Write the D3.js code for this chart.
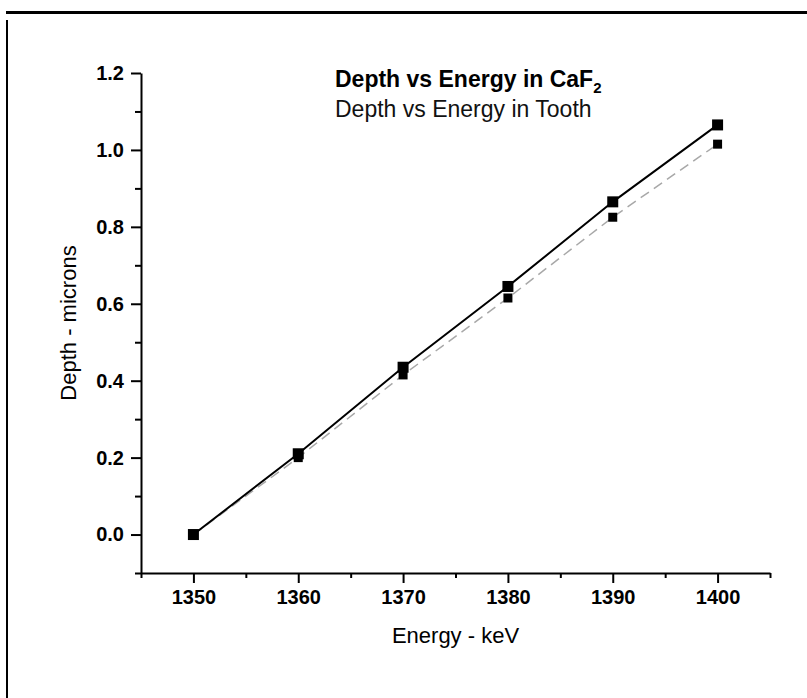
<!DOCTYPE html>
<html>
<head>
<meta charset="utf-8">
<script src="https://d3js.org/d3.v7.min.js"></script>
<style>
  body { margin: 0; background: #fff; }
  svg { display: block; font-family: "Liberation Sans", Arial, sans-serif; }
</style>
</head>
<body>
<script>
// values
const energy = [1350, 1360, 1370, 1380, 1390, 1400];
const depthCaF2 = [0, 0.21, 0.435, 0.645, 0.865, 1.065];
const depthTooth = [0, 0.20, 0.415, 0.615, 0.825, 1.015];

const xTicks = [1350, 1360, 1370, 1380, 1390, 1400];
const xMinorTicks = [1345, 1355, 1365, 1375, 1385, 1395, 1405];
const yTicks = [0, 0.2, 0.4, 0.6, 0.8, 1.0, 1.2];
const yMinorTicks = [-0.1, 0.1, 0.3, 0.5, 0.7, 0.9, 1.1];

const legendLabels = ['Depth vs Energy in CaF', 'Depth vs Energy in Tooth'];

var svgWidth = 807, svgHeight = 698;

var svg = d3.select('body')
    .append('svg')
    .attr('width', svgWidth)
    .attr('height', svgHeight);

// page frame (top and left edges only)
svg.append('line')
    .attr('x1', 6).attr('x2', svgWidth).attr('y1', 12.5).attr('y2', 12.5)
    .attr('stroke', '#000').attr('stroke-width', 3);
svg.append('line')
    .attr('x1', 7).attr('x2', 7).attr('y1', 20).attr('y2', svgHeight)
    .attr('stroke', '#000').attr('stroke-width', 2);

var xScale = d3.scaleLinear()
    .domain([1345, 1405])
    .range([141, 770]);

var yScale = d3.scaleLinear()
    .domain([-0.1, 1.2])
    .range([573, 73]);

// minor ticks first
svg.append('g')
    .attr('transform', 'translate(0,' + yScale(-0.1) + ')')
    .call(d3.axisBottom(xScale).tickValues(xMinorTicks).tickSize(5).tickFormat(''))
    .call(g => g.select('.domain').remove())
    .selectAll('line').attr('stroke-width', 2);

svg.append('g')
    .attr('transform', 'translate(' + xScale(1345) + ',0)')
    .call(d3.axisLeft(yScale).tickValues(yMinorTicks).tickSize(6).tickFormat(''))
    .call(g => g.select('.domain').remove())
    .selectAll('line').attr('stroke-width', 2);

// major axes
var xAxis = svg.append('g')
    .attr('transform', 'translate(0,' + yScale(-0.1) + ')')
    .call(d3.axisBottom(xScale).tickValues(xTicks).tickSize(10).tickSizeOuter(0).tickPadding(7).tickFormat(d3.format('d')));

var yAxis = svg.append('g')
    .attr('transform', 'translate(' + xScale(1345) + ',0)')
    .call(d3.axisLeft(yScale).tickValues(yTicks).tickSize(10).tickSizeOuter(0).tickPadding(7).tickFormat(d3.format('.1f')));

[xAxis, yAxis].forEach(function (ax) {
    ax.select('.domain').attr('stroke-width', 2);
    ax.selectAll('line').attr('stroke-width', 2);
    ax.selectAll('text')
        .style('font-size', '20px')
        .style('font-weight', 'bold')
        .style('font-family', '"Liberation Sans", Arial, sans-serif')
        .attr('fill', '#000');
});

// axis titles
svg.append('text')
    .attr('x', (xScale.range()[0] + xScale.range()[1]) / 2)
    .attr('y', 643)
    .style('text-anchor', 'middle')
    .style('font-size', '22px')
    .text('Energy - keV');

svg.append('text')
    .attr('transform', 'rotate(-90)')
    .attr('x', -(yScale.range()[0] + yScale.range()[1]) / 2)
    .attr('y', 76)
    .style('text-anchor', 'middle')
    .style('font-size', '22px')
    .text('Depth - microns');

// series
var tooth = energy.map((e, i) => ({ x: e, y: depthTooth[i] }));
var caf2 = energy.map((e, i) => ({ x: e, y: depthCaF2[i] }));

var line = d3.line()
    .x(d => xScale(d.x))
    .y(d => yScale(d.y));

svg.append('path')
    .datum(tooth)
    .attr('d', line)
    .attr('fill', 'none')
    .attr('stroke', '#a8a8a8')
    .attr('stroke-width', 1.5)
    .attr('stroke-dasharray', '10,6');

svg.append('path')
    .datum(caf2)
    .attr('d', line)
    .attr('fill', 'none')
    .attr('stroke', '#000')
    .attr('stroke-width', 2);

var toothSize = 9, cafSize = 11;

svg.append('g').selectAll('rect')
    .data(tooth)
    .enter().append('rect')
    .attr('x', d => xScale(d.x) - toothSize / 2)
    .attr('y', d => yScale(d.y) - toothSize / 2)
    .attr('width', toothSize)
    .attr('height', toothSize)
    .attr('fill', '#000');

svg.append('g').selectAll('rect')
    .data(caf2)
    .enter().append('rect')
    .attr('x', d => xScale(d.x) - cafSize / 2)
    .attr('y', d => yScale(d.y) - cafSize / 2)
    .attr('width', cafSize)
    .attr('height', cafSize)
    .attr('fill', '#000');

// legend text
var lg1 = svg.append('text')
    .attr('x', 335)
    .attr('y', 87)
    .style('font-size', '23px')
    .style('font-weight', 'bold')
    .text(legendLabels[0]);
lg1.append('tspan')
    .attr('dy', 6)
    .style('font-size', '15px')
    .text('2');

svg.append('text')
    .attr('x', 335)
    .attr('y', 117)
    .style('font-size', '23px')
    .attr('fill', '#111')
    .text(legendLabels[1]);
</script>
</body>
</html>
